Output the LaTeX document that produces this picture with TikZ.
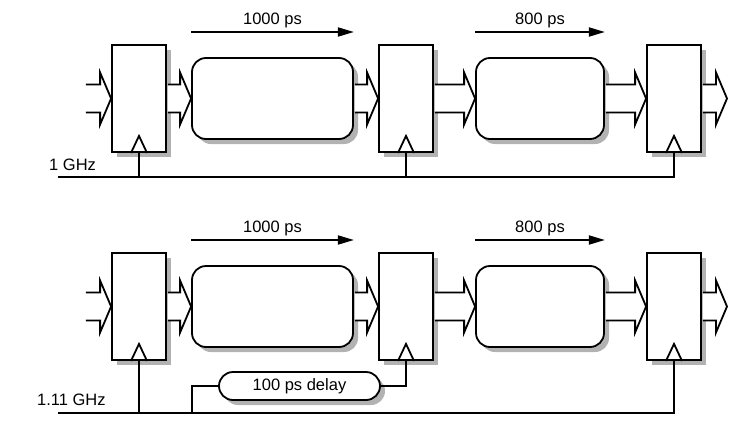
\documentclass[tikz,border=0pt]{standalone}
\usepackage{fontspec}
\setmainfont{Liberation Sans}
\usetikzlibrary{shadows,arrows.meta,calc}
\tikzset{
  lw/.style={line width=1.8pt},
  shad/.style={drop shadow={shadow xshift=5pt, shadow yshift=-5pt, fill=black!30, opacity=1}},
  reg/.style={draw, fill=white, lw, shad, minimum width=54pt, minimum height=107pt, inner sep=0pt},
  logic/.style={draw, fill=white, lw, shad, rounded corners=14pt, minimum height=81pt, inner sep=0pt},
  lbl/.style={font=\fontsize{16.5}{19}\selectfont, inner sep=0pt},
  delaybox/.style={draw, fill=white, lw, shad, rounded corners=14pt, minimum width=161pt, minimum height=28pt, inner sep=0pt, font=\fontsize{16.5}{19}\selectfont},
  bus/.style={draw, fill=white, lw},
  tarrow/.style={lw, -{Triangle[length=16pt,width=9pt]}},
  wire/.style={lw},
}
\newcommand\busarr[2]{%
  \draw[bus] let \p1=(#1), \p2=(#2) in
    (\x1+0.9pt,\y1+14pt) -- (\x2-11pt,\y1+14pt) -- (\x2-11pt,\y1+26pt) -- (\x2,\y1)
    -- (\x2-11pt,\y1-26pt) -- (\x2-11pt,\y1-14pt) -- (\x1+0.9pt,\y1-14pt);}
\begin{document}
\begin{tikzpicture}[x=1pt,y=-1pt]
\useasboundingbox (0,0) rectangle (742,434);

% ---------- top row ----------
\node[reg] (r1a) at (139,98.5) {};
\node[reg] (r2a) at (406,98.5) {};
\node[reg] (r3a) at (674,98.5) {};
\node[logic, minimum width=161pt] (b1a) at (272.5,98.5) {};
\node[logic, minimum width=128pt] (b2a) at (540,98.5) {};
\coordinate (ina) at (85,98.5);
\coordinate (outa) at (727,98.5);

\busarr{ina}{r1a.west}
\busarr{r1a.east}{b1a.west}
\busarr{b1a.east}{r2a.west}
\busarr{r2a.east}{b2a.west}
\busarr{b2a.east}{r3a.west}
\busarr{r3a.east}{outa}

\coordinate (ta) at (0,32);
\draw[tarrow] (b1a.west |- ta) -- (b1a.east |- ta);
\draw[tarrow] (b2a.west |- ta) -- (b2a.east |- ta);
\node[lbl, anchor=base] (l1a) at (272.5,24) {1000 ps};
\node[lbl, anchor=base] (l2a) at (540,24) {800 ps};

\foreach \r in {r1a,r2a,r3a}{
  \draw[wire] ([xshift=-8pt]\r.south) -- ([yshift=17pt]\r.south) -- ([xshift=8pt]\r.south);
}
\coordinate (cka) at (58,177);
\draw[wire] (cka) -| (r3a.south);
\draw[wire] (r1a.south) -- (r1a.south |- cka);
\draw[wire] (r2a.south) -- (r2a.south |- cka);
\node[lbl, anchor=base west] (fa) at (49,170.5) {1 GHz};

% ---------- bottom row ----------
\node[reg] (r1b) at (139,306.5) {};
\node[reg] (r2b) at (406,306.5) {};
\node[reg] (r3b) at (674,306.5) {};
\node[logic, minimum width=161pt] (b1b) at (272.5,306.5) {};
\node[logic, minimum width=128pt] (b2b) at (540,306.5) {};
\coordinate (inb) at (85,306.5);
\coordinate (outb) at (727,306.5);

\busarr{inb}{r1b.west}
\busarr{r1b.east}{b1b.west}
\busarr{b1b.east}{r2b.west}
\busarr{r2b.east}{b2b.west}
\busarr{b2b.east}{r3b.west}
\busarr{r3b.east}{outb}

\coordinate (tb) at (0,240);
\draw[tarrow] (b1b.west |- tb) -- (b1b.east |- tb);
\draw[tarrow] (b2b.west |- tb) -- (b2b.east |- tb);
\node[lbl, anchor=base] (l1b) at (272.5,232) {1000 ps};
\node[lbl, anchor=base] (l2b) at (540,232) {800 ps};

\foreach \r in {r1b,r2b,r3b}{
  \draw[wire] ([xshift=-8pt]\r.south) -- ([yshift=17pt]\r.south) -- ([xshift=8pt]\r.south);
}
\coordinate (ckb) at (58,413);
\draw[wire] (ckb) -| (r3b.south);
\draw[wire] (r1b.south) -- (r1b.south |- ckb);
\node[delaybox] (dl) at (299.5,386) {100 ps delay};
\coordinate (tap) at (192,413);
\draw[wire] (dl.west) -| (tap);
\draw[wire] (dl.east) -| (r2b.south);
\node[lbl, anchor=base west] (fb) at (37,405.7) {1.11 GHz};
\end{tikzpicture}
\end{document}
